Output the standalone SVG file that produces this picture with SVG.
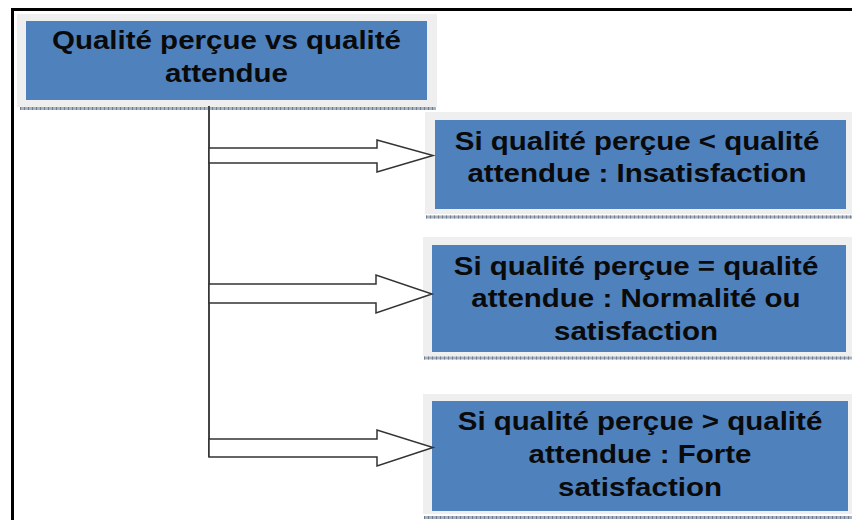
<svg xmlns="http://www.w3.org/2000/svg" width="852" height="520" viewBox="0 0 852 520">
  <defs>
    <style>
      .frame { fill: #efefef; }
      .box { fill: #4f81bd; }
      .rule { stroke: #a9b3c0; stroke-width: 3; }
      .tick { stroke: #6f7d8f; stroke-width: 3; stroke-dasharray: 1 3; }
      .lbl { font-family: "Liberation Sans", Arial, sans-serif; font-weight: bold; font-size: 25px; fill: #0a0a0a; text-anchor: middle; }
      .arrow { fill: #ffffff; stroke: #333333; stroke-width: 1.5; stroke-linejoin: miter; }
      .trunk { stroke: #444444; stroke-width: 2; fill: none; }
      .border { stroke: #000000; stroke-width: 3; fill: none; }
    </style>
  </defs>

  <rect width="852" height="520" fill="#ffffff"/>

  <!-- page border -->
  <path class="border" d="M12.5 520 V9.5 H852"/>

  <g id="node-comparaison">
    <rect class="frame" x="17" y="14" width="420" height="93"/>
    <rect class="box" x="26" y="21" width="401" height="79"/>
    <line class="rule" x1="20" y1="108.5" x2="436" y2="108.5"/>
    <line class="tick" x1="20" y1="108.5" x2="436" y2="108.5"/>
    <g transform="translate(226.5 0) scale(1.18 1)">
      <text class="lbl" x="0" y="49">Qualité perçue vs qualité</text>
      <text class="lbl" x="0" y="82">attendue</text>
    </g>
  </g>

  <g id="node-insatisfaction">
    <rect class="frame" x="425" y="112" width="427" height="102"/>
    <rect class="box" x="435" y="120" width="411" height="89"/>
    <line class="rule" x1="426" y1="217" x2="852" y2="217"/>
    <line class="tick" x1="426" y1="217" x2="852" y2="217"/>
    <g transform="translate(637 0) scale(1.18 1)">
      <text class="lbl" x="0" y="150">Si qualité perçue &lt; qualité</text>
      <text class="lbl" x="0" y="182">attendue : Insatisfaction</text>
    </g>
  </g>

  <g id="node-normalite">
    <rect class="frame" x="423" y="237" width="429" height="119"/>
    <rect class="box" x="432" y="245" width="414" height="107"/>
    <line class="rule" x1="424" y1="358" x2="852" y2="358"/>
    <line class="tick" x1="424" y1="358" x2="852" y2="358"/>
    <g transform="translate(636 0) scale(1.18 1)">
      <text class="lbl" x="0" y="275">Si qualité perçue = qualité</text>
      <text class="lbl" x="0" y="307">attendue : Normalité ou</text>
      <text class="lbl" x="0" y="340">satisfaction</text>
    </g>
  </g>

  <g id="node-forte-satisfaction">
    <rect class="frame" x="423" y="394" width="429" height="120"/>
    <rect class="box" x="432" y="401" width="416" height="110"/>
    <line class="rule" x1="424" y1="517.5" x2="852" y2="517.5"/>
    <line class="tick" x1="424" y1="517.5" x2="852" y2="517.5"/>
    <g transform="translate(640 0) scale(1.18 1)">
      <text class="lbl" x="0" y="430">Si qualité perçue &gt; qualité</text>
      <text class="lbl" x="0" y="463">attendue : Forte</text>
      <text class="lbl" x="0" y="496">satisfaction</text>
    </g>
  </g>

  <!-- trunk and block arrows, drawn over the node frames -->
  <g id="connectors">
    <line class="trunk" x1="209" y1="106" x2="209" y2="457"/>
    <polygon class="arrow" points="209,148 377,148 377,140 433,155.5 377,172 377,163 209,163"/>
    <polygon class="arrow" points="209,284 376,284 376,275 432,294 376,313 376,303 209,303"/>
    <polygon class="arrow" points="209,439 377,439 377,430 433,447.5 377,466 377,457 209,457"/>
  </g>
</svg>
